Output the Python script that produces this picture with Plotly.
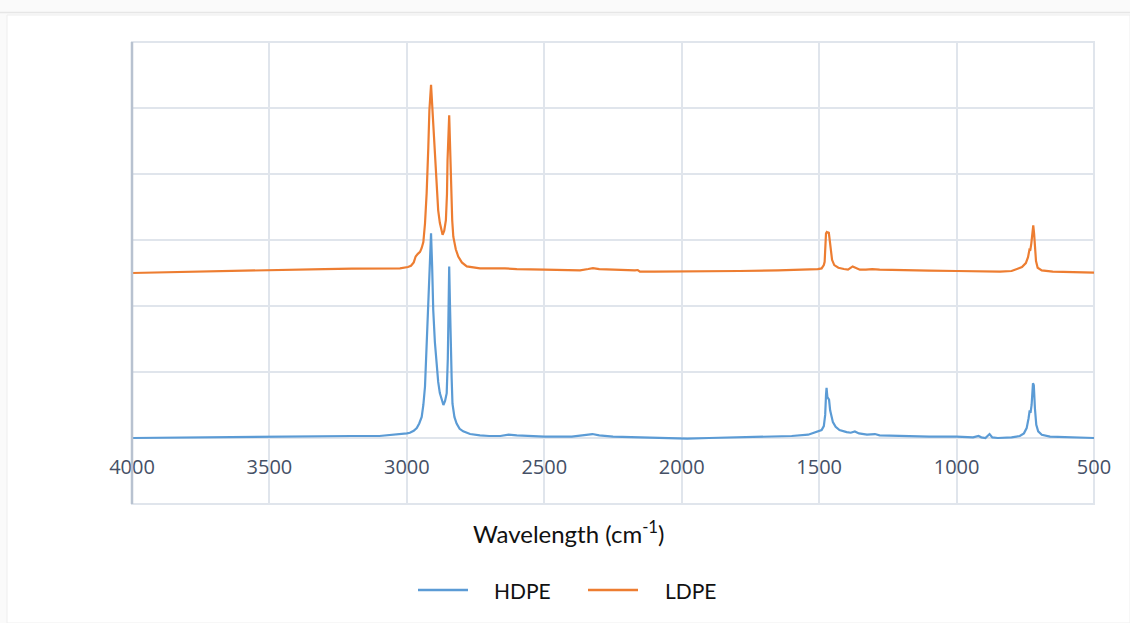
import plotly.graph_objects as go

# FTIR spectra, read as (wavenumber cm^-1, absorbance in plot units)
hdpe_wn = [4000, 3900, 3800, 3700, 3600, 3500, 3400, 3300, 3200, 3100, 3050, 3000,
           2989, 2975, 2964, 2955, 2946, 2940, 2934, 2928, 2922, 2916, 2912, 2908,
           2904, 2898, 2892, 2886, 2880, 2873, 2867, 2861, 2855, 2851, 2849, 2846,
           2843, 2841, 2837, 2834, 2827, 2819, 2808, 2795, 2770, 2734, 2700, 2660,
           2630, 2600, 2500, 2400, 2350, 2325, 2300, 2250, 2150, 2050, 1980, 1900,
           1800, 1700, 1600, 1540, 1515, 1491, 1483, 1478, 1475, 1473, 1470, 1466,
           1464, 1460, 1455, 1450, 1440, 1426, 1400, 1385, 1370, 1355, 1326, 1310,
           1297, 1280, 1200, 1100, 1000, 940, 920, 910, 895, 880, 870, 850,
           800, 770, 755, 745, 738, 734, 731, 727, 722, 719, 715, 710,
           703, 690, 660, 600, 500]
hdpe_abs = [0.00, 0.005, 0.01, 0.015, 0.02, 0.025, 0.025, 0.03, 0.03, 0.03, 0.045, 0.07,
            0.08, 0.11, 0.15, 0.22, 0.32, 0.50, 0.78, 1.43, 2.19, 2.90, 3.10, 2.60,
            1.94, 1.45, 1.08, 0.85, 0.68, 0.56, 0.50, 0.56, 0.68, 1.20, 1.69, 2.60,
            2.00, 1.43, 0.90, 0.52, 0.32, 0.22, 0.14, 0.10, 0.06, 0.04, 0.03, 0.03,
            0.05, 0.04, 0.02, 0.02, 0.04, 0.06, 0.04, 0.02, 0.01, 0.00, -0.01, 0.00,
            0.01, 0.02, 0.03, 0.05, 0.08, 0.12, 0.18, 0.35, 0.65, 0.76, 0.62, 0.60,
            0.58, 0.42, 0.30, 0.24, 0.17, 0.12, 0.09, 0.08, 0.10, 0.07, 0.05, 0.055,
            0.06, 0.04, 0.03, 0.02, 0.02, 0.01, 0.03, 0.01, 0.00, 0.06, 0.01, 0.00,
            0.01, 0.03, 0.07, 0.15, 0.30, 0.42, 0.38, 0.50, 0.83, 0.80, 0.45, 0.20,
            0.10, 0.05, 0.02, 0.01, 0.00]

ldpe_wn = [4000, 3900, 3800, 3700, 3600, 3500, 3400, 3300, 3200, 3100, 3025, 2996,
           2985, 2975, 2968, 2960, 2952, 2946, 2940, 2934, 2928, 2922, 2918, 2912,
           2908, 2904, 2898, 2892, 2886, 2880, 2875, 2870, 2864, 2858, 2854, 2852,
           2846, 2842, 2839, 2835, 2831, 2822, 2813, 2800, 2782, 2734, 2643, 2600,
           2500, 2370, 2340, 2323, 2300, 2250, 2170, 2160, 2152, 2100, 2006, 1900,
           1790, 1650, 1533, 1505, 1491, 1483, 1480, 1477, 1475, 1472, 1468, 1465,
           1462, 1458, 1453, 1445, 1430, 1410, 1395, 1378, 1365, 1352, 1330, 1307,
           1280, 1206, 1100, 1000, 900, 842, 800, 788, 762, 748, 740, 735,
           732, 728, 724, 721, 718, 715, 711, 705, 690, 650, 600, 500]
ldpe_abs = [2.50, 2.51, 2.52, 2.52, 2.53, 2.54, 2.55, 2.56, 2.565, 2.57, 2.57, 2.59,
            2.61, 2.66, 2.75, 2.79, 2.82, 2.88, 2.97, 3.25, 3.71, 4.40, 4.97, 5.35,
            5.05, 4.72, 4.20, 3.71, 3.45, 3.26, 3.15, 3.08, 3.14, 3.30, 3.70, 4.21,
            4.89, 4.30, 3.71, 3.30, 3.05, 2.86, 2.75, 2.66, 2.60, 2.57, 2.57, 2.56,
            2.55, 2.54, 2.56, 2.575, 2.56, 2.55, 2.54, 2.545, 2.52, 2.52, 2.52, 2.525,
            2.53, 2.54, 2.55, 2.56, 2.57, 2.62, 2.67, 2.90, 3.10, 3.12, 3.11, 3.12,
            3.00, 2.80, 2.70, 2.62, 2.58, 2.56, 2.55, 2.60, 2.57, 2.55, 2.55, 2.56,
            2.55, 2.54, 2.535, 2.53, 2.525, 2.52, 2.53, 2.55, 2.59, 2.65, 2.74, 2.85,
            2.84, 2.95, 3.15, 3.22, 3.10, 2.85, 2.68, 2.58, 2.54, 2.52, 2.515, 2.505]

x_ticks = [4000, 3500, 3000, 2500, 2000, 1500, 1000, 500]
series_names = ["HDPE", "LDPE"]

BLUE = "#5b9bd5"
ORANGE = "#ed7d31"
GRID = "#e0e5ec"
AXIS = "#b8c2d0"
TICK_TXT = "#455066"
TEXT = "#111111"

W, H = 1130, 623
L, R, T, B = 132, 36, 42, 119
PW, PH = W - L - R, H - T - B


def px_x(px):
    return (px - L) / PW


def px_y(py):
    return (H - B - py) / PH


fig = go.Figure()
fig.add_trace(go.Scatter(x=hdpe_wn, y=hdpe_abs, mode="lines", name=series_names[0],
                         line=dict(color=BLUE, width=2.2), showlegend=False))
fig.add_trace(go.Scatter(x=ldpe_wn, y=ldpe_abs, mode="lines", name=series_names[1],
                         line=dict(color=ORANGE, width=2.2), showlegend=False))

# legend drawn as keys + labels below the axis title
legend_keys = [(418, 468, 492, BLUE), (588, 638, 663, ORANGE)]
legend_y = 590
shapes = [
    # white chart panel and its faint top rule
    dict(type="rect", xref="paper", yref="paper", x0=px_x(7), x1=px_x(1130),
         y0=px_y(623), y1=px_y(15), fillcolor="white",
         line=dict(color="#eeeeee", width=1), layer="below"),
    dict(type="line", xref="paper", yref="paper", x0=px_x(0), x1=px_x(1130),
         y0=px_y(12.5), y1=px_y(12.5), line=dict(color="#e6e6e6", width=1.5)),
    # plot frame
    dict(type="rect", xref="paper", yref="paper", x0=0, x1=1, y0=0, y1=1,
         line=dict(color=GRID, width=2), layer="below"),
    dict(type="line", xref="paper", yref="paper", x0=0, x1=0, y0=0, y1=1,
         line=dict(color=AXIS, width=2.5)),
]
annotations = [dict(text="Wavelength (cm<sup>-1</sup>)", x=px_x(569), y=px_y(532),
                    xref="paper", yref="paper", showarrow=False,
                    xanchor="center", yanchor="middle",
                    font=dict(family="Lato", size=24, color=TEXT))]
for name, (lx0, lx1, tx, col) in zip(series_names, legend_keys):
    shapes.append(dict(type="line", xref="paper", yref="paper",
                       x0=px_x(lx0), x1=px_x(lx1), y0=px_y(legend_y), y1=px_y(legend_y),
                       line=dict(color=col, width=2.5)))
    annotations.append(dict(text=name, x=px_x(tx), y=px_y(legend_y), xref="paper",
                            yref="paper", showarrow=False, xanchor="left",
                            yanchor="middle",
                            font=dict(family="Lato", size=21, color=TEXT)))

fig.update_layout(
    width=W, height=H,
    margin=dict(l=L, r=R, t=T, b=B, pad=0),
    paper_bgcolor="#fafafa",
    plot_bgcolor="white",
    showlegend=False,
    xaxis=dict(range=[4000, 500], tickvals=x_ticks, ticktext=[str(v) for v in x_ticks],
               showgrid=True, gridcolor=GRID, gridwidth=2, zeroline=False,
               showline=False, ticks="", anchor="free", position=px_y(438),
               ticklabelstandoff=15,
               tickfont=dict(family="Open Sans", size=20, color=TICK_TXT)),
    yaxis=dict(range=[-1, 6], dtick=1, showticklabels=False, showgrid=True,
               gridcolor=GRID, gridwidth=2, zeroline=False, showline=False, ticks=""),
    annotations=annotations,
    shapes=shapes,
)

fig.write_html("out.html")
